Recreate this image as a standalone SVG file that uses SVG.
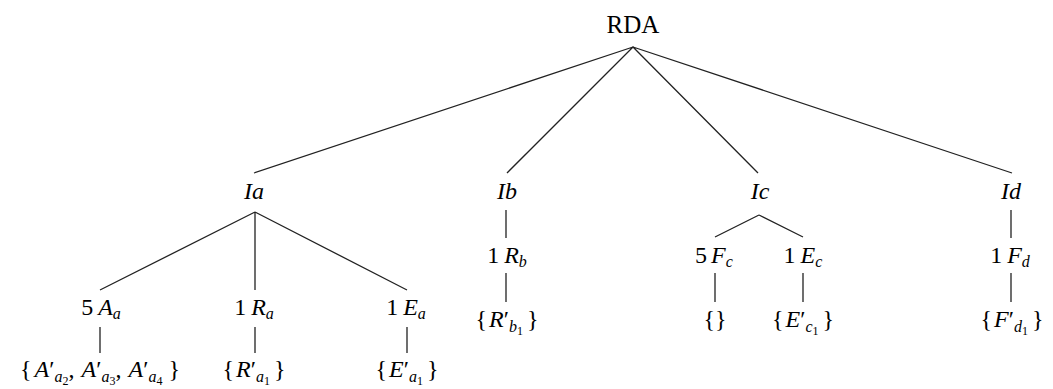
<svg xmlns="http://www.w3.org/2000/svg" width="1053" height="389" viewBox="0 0 1053 389">
<style>
.t{font-family:"Liberation Serif","Times New Roman",serif;font-size:24px;fill:#000;text-anchor:middle}
.r{font-size:25px}
.i{font-style:italic}
.s{font-size:16px}
.ss{font-size:12px}
.e{stroke:#222;stroke-width:1.3;fill:none}
</style>
<rect width="1053" height="389" fill="#fff"/>
<g id="connectors" class="e">
<path d="M633,47 L254,173 M633,47 L507,173 M633,47 L758,173 M633,47 L1012,173"/>
<path d="M255,212 L100,290 M255,212 L255,290 M255,212 L407,290"/>
<path d="M100,327 V353 M255,327 V353 M407,327 V353"/>
<path d="M506,210 V238 M506,273 V302"/>
<path d="M759,215 L715,237 M759,215 L803,237 M715,273 V302 M803,273 V302"/>
<path d="M1011,210 V238 M1011,273 V302"/>
</g>
<g id="RDA"><text class="t r" x="633" y="33">RDA</text></g>
<g id="Ia"><text class="t i" x="254" y="199">Ia</text></g>
<g id="Ib"><text class="t i" x="507" y="199">Ib</text></g>
<g id="Ic"><text class="t i" x="760" y="199">Ic</text></g>
<g id="Id"><text class="t i" x="1011" y="199">Id</text></g>
<g id="Aa"><text class="t" x="101" y="315">5<tspan class="i" dx="5">A</tspan><tspan class="i s" dy="4">a</tspan></text></g>
<g id="Ra"><text class="t" x="254" y="315">1<tspan class="i" dx="5">R</tspan><tspan class="i s" dy="4">a</tspan></text></g>
<g id="Ea"><text class="t" x="406" y="315">1<tspan class="i" dx="5">E</tspan><tspan class="i s" dy="4">a</tspan></text></g>
<g id="Aset"><text class="t" x="100" y="377">{<tspan class="i" dx="3">A</tspan>′<tspan class="i s" dy="5">a</tspan><tspan class="ss" dy="3">2</tspan><tspan dy="-8">,</tspan><tspan class="i" dx="7">A</tspan>′<tspan class="i s" dy="5">a</tspan><tspan class="ss" dy="3">3</tspan><tspan dy="-8">,</tspan><tspan class="i" dx="7">A</tspan>′<tspan class="i s" dy="5">a</tspan><tspan class="ss" dy="3">4</tspan><tspan dx="6" dy="-8">}</tspan></text></g>
<g id="Rset"><text class="t" x="254" y="377">{<tspan class="i" dx="2">R</tspan>′<tspan class="i s" dy="5">a</tspan><tspan class="ss" dy="3">1</tspan><tspan dx="4" dy="-8">}</tspan></text></g>
<g id="Eset"><text class="t" x="407" y="377">{<tspan class="i" dx="2">E</tspan>′<tspan class="i s" dy="5">a</tspan><tspan class="ss" dy="3">1</tspan><tspan dx="4" dy="-8">}</tspan></text></g>
<g id="Rb"><text class="t" x="507" y="263">1<tspan class="i" dx="5">R</tspan><tspan class="i s" dy="4">b</tspan></text></g>
<g id="Rbset"><text class="t" x="507" y="327">{<tspan class="i" dx="2">R</tspan>′<tspan class="i s" dy="5">b</tspan><tspan class="ss" dy="3">1</tspan><tspan dx="4" dy="-8">}</tspan></text></g>
<g id="Fc"><text class="t" x="714" y="263">5<tspan class="i" dx="4">F</tspan><tspan class="i s" dy="4">c</tspan></text></g>
<g id="Ec"><text class="t" x="803" y="263">1<tspan class="i" dx="5">E</tspan><tspan class="i s" dy="4">c</tspan></text></g>
<g id="Fcset"><text class="t" x="715" y="327">{}</text></g>
<g id="Ecset"><text class="t" x="803" y="327">{<tspan class="i" dx="2">E</tspan>′<tspan class="i s" dy="5">c</tspan><tspan class="ss" dy="3">1</tspan><tspan dx="4" dy="-8">}</tspan></text></g>
<g id="Fd"><text class="t" x="1010" y="263">1<tspan class="i" dx="5">F</tspan><tspan class="i s" dy="4">d</tspan></text></g>
<g id="Fdset"><text class="t" x="1012" y="327">{<tspan class="i" dx="2">F</tspan>′<tspan class="i s" dy="5">d</tspan><tspan class="ss" dy="3">1</tspan><tspan dx="4" dy="-8">}</tspan></text></g>
</svg>
